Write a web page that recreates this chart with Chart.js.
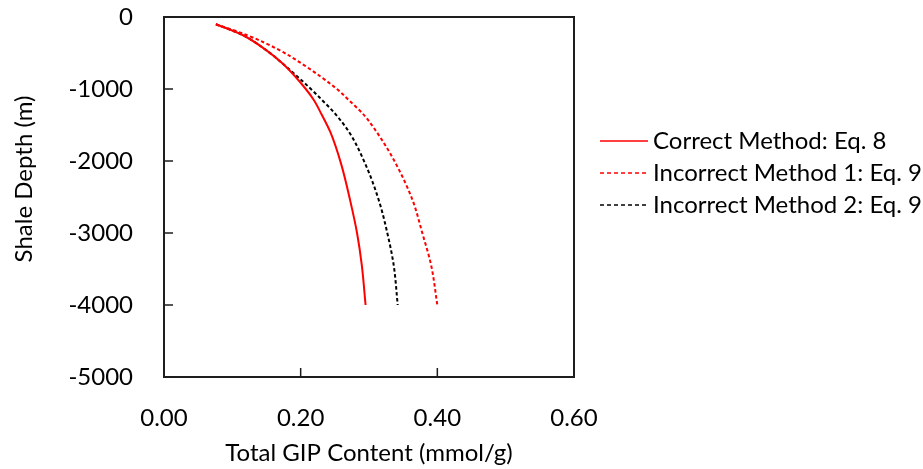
<!DOCTYPE html>
<html>
<head>
<meta charset="utf-8">
<script src="https://cdn.jsdelivr.net/npm/chart.js@4.4.0/dist/chart.umd.min.js"></script>
<style>
  html, body { margin: 0; padding: 0; background: #fff; }
</style>
</head>
<body>
<canvas id="gipCanvas" width="923" height="469"></canvas>
<script>
// depth (m) shared by all three curves
const depths = [-100, -250, -450, -650, -1000, -1150, -1350, -1600, -2050, -2550, -3000, -3450, -4000];
// total GIP content (mmol/g)
const correctEq8 = [0.076, 0.115, 0.148, 0.174, 0.2075, 0.219, 0.2305, 0.2435, 0.2595, 0.2725, 0.2825, 0.2895, 0.295];
const incorrect1Eq9 = [0.076, 0.121, 0.167, 0.202, 0.253, 0.270, 0.2915, 0.3115, 0.340, 0.364, 0.378, 0.391, 0.400];
const incorrect2Eq9 = [0.076, 0.115, 0.148, 0.174, 0.215, 0.231, 0.251, 0.271, 0.295, 0.3145, 0.3268, 0.3362, 0.342];
const seriesNames = ["Correct Method: Eq. 8", "Incorrect Method 1: Eq. 9", "Incorrect Method 2: Eq. 9"];
const xTicks = [0, 0.2, 0.4, 0.6];
const yTicks = [0, -1000, -2000, -3000, -4000, -5000];

const FONT = "Lato";
const FONT_SIZE = 24;
const textColor = "#000";

function toPoints(xs) {
    return depths.map((d, i) => ({ x: xs[i], y: d }));
}

// draws the box, the inward tick marks, the y title and the legend
const decorations = {
    id: "decorations",
    afterDraw(chart) {
        const ctx = chart.ctx;
        const area = chart.chartArea;
        const xs = chart.scales.x;
        const ys = chart.scales.y;
        ctx.save();
        ctx.strokeStyle = "#1e1e1e";
        ctx.lineWidth = 2;
        ctx.strokeRect(area.left, area.top, area.right - area.left, area.bottom - area.top);

        ctx.lineWidth = 1.5;
        ctx.beginPath();
        xTicks.forEach((v) => {
            const px = xs.getPixelForValue(v);
            ctx.moveTo(px, area.bottom);
            ctx.lineTo(px, area.bottom - 9);
        });
        yTicks.forEach((v) => {
            const py = ys.getPixelForValue(v);
            ctx.moveTo(area.left, py);
            ctx.lineTo(area.left + 9, py);
        });
        ctx.stroke();

        // y axis title
        ctx.fillStyle = textColor;
        ctx.font = `${FONT_SIZE}px ${FONT}`;
        ctx.textAlign = "center";
        ctx.textBaseline = "middle";
        ctx.translate(24, 179);
        ctx.rotate(-Math.PI / 2);
        ctx.fillText("Shale Depth (m)", 0, 0);
        ctx.restore();

        // legend
        ctx.save();
        ctx.font = `${FONT_SIZE}px ${FONT}`;
        ctx.textAlign = "left";
        ctx.textBaseline = "middle";
        chart.data.datasets.forEach((ds, i) => {
            const y = 141 + i * 32;
            ctx.strokeStyle = ds.borderColor;
            ctx.lineWidth = 1.5;
            ctx.setLineDash(ds.borderDash.length ? [4, 3] : []);
            ctx.beginPath();
            ctx.moveTo(600, y);
            ctx.lineTo(648, y);
            ctx.stroke();
            ctx.setLineDash([]);
            ctx.fillStyle = textColor;
            ctx.fillText(ds.label, 653, y);
        });
        ctx.restore();
    },
};

const ctx = document.getElementById("gipCanvas").getContext("2d");
const gipChart = new Chart(ctx, {
    type: "scatter",
    data: {
        datasets: [
            {
                label: seriesNames[0],
                data: toPoints(correctEq8),
                borderColor: "#ff0000",
                borderWidth: 2,
                borderDash: [],
                cubicInterpolationMode: "monotone",
            },
            {
                label: seriesNames[1],
                data: toPoints(incorrect1Eq9),
                borderColor: "#ff0000",
                borderWidth: 2,
                borderDash: [3.5, 2.5],
                cubicInterpolationMode: "monotone",
            },
            {
                label: seriesNames[2],
                data: toPoints(incorrect2Eq9),
                borderColor: "#000000",
                borderWidth: 2,
                borderDash: [3.5, 2.5],
                cubicInterpolationMode: "monotone",
            },
        ],
    },
    options: {
        responsive: false,
        animation: false,
        showLine: true,
        // depth is the independent variable, so the curves are splined along y
        indexAxis: "y",
        elements: {
            point: { radius: 0, hoverRadius: 0 },
        },
        layout: { padding: { top: 17, right: 349, left: 0, bottom: 0 } },
        plugins: {
            legend: { display: false },
            tooltip: { enabled: false },
        },
        scales: {
            x: {
                type: "linear",
                min: 0,
                max: 0.6,
                afterBuildTicks: (scale) => { scale.ticks = xTicks.map((v) => ({ value: v })); },
                afterFit: (scale) => {
                    scale.height = 92;
                    scale.paddingLeft = 0;
                    scale.paddingRight = 0;
                },
                grid: { display: false, drawTicks: false, tickLength: 0 },
                border: { display: false },
                ticks: {
                    callback: (v) => Number(v).toFixed(2),
                    font: { family: FONT, size: FONT_SIZE },
                    color: textColor,
                    padding: 27,
                    maxRotation: 0,
                },
                title: {
                    display: true,
                    text: "Total GIP Content (mmol/g)",
                    font: { family: FONT, size: FONT_SIZE },
                    color: textColor,
                    padding: { top: 0, bottom: 1 },
                },
            },
            y: {
                type: "linear",
                min: -5000,
                max: 0,
                afterBuildTicks: (scale) => { scale.ticks = yTicks.map((v) => ({ value: v })); },
                afterFit: (scale) => {
                    scale.width = 164;
                    scale.paddingTop = 0;
                    scale.paddingBottom = 0;
                },
                grid: { display: false, drawTicks: false, tickLength: 0 },
                border: { display: false },
                ticks: {
                    callback: (v) => String(v),
                    font: { family: FONT, size: FONT_SIZE },
                    color: textColor,
                    padding: 31,
                },
            },
        },
    },
    plugins: [decorations],
});
</script>
</body>
</html>
